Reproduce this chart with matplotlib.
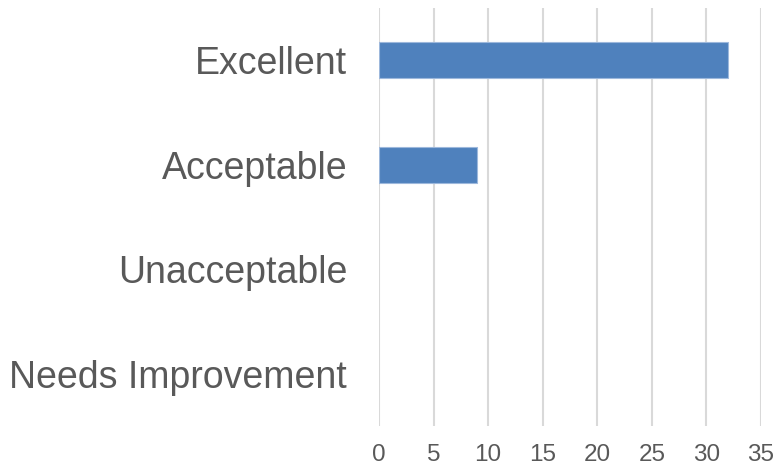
import matplotlib
matplotlib.use("Agg")
import matplotlib.pyplot as plt

categories = ["Excellent", "Acceptable", "Unacceptable", "Needs Improvement"]
values = [32, 9, 0, 0]
xticks = [0, 5, 10, 15, 20, 25, 30, 35]

plt.rcParams['font.family'] = ['Liberation Sans', 'DejaVu Sans']
fig = plt.figure(figsize=(7.76, 4.69), dpi=100)
ax = fig.add_axes([379/776, 1 - 426/469, (761-379)/776, (426-8)/469])

ypos = list(range(len(categories)))
lws = [0.8 if v > 0 else 0 for v in values]
ax.barh(ypos, values, height=0.34, color="#4f81bd", edgecolor="#9db8dc", linewidth=lws, zorder=3)
ax.set_ylim(len(categories) - 0.5, -0.5)
ax.set_xlim(0, 35)
ax.set_xticks(xticks)
ax.set_xticklabels([str(t) for t in xticks])
ax.set_yticks(ypos)
ax.set_yticklabels(categories)
ax.xaxis.grid(True, color="#d9d9d9", linewidth=1.5, zorder=0)
ax.set_axisbelow(True)
for s in ax.spines.values():
    s.set_visible(False)
ax.tick_params(axis='y', length=0, pad=23, labelsize=27, labelcolor="#595959")
ax.tick_params(axis='x', length=0, pad=13, labelsize=17.5, labelcolor="#595959")

fig.savefig("out.png", dpi=100)
